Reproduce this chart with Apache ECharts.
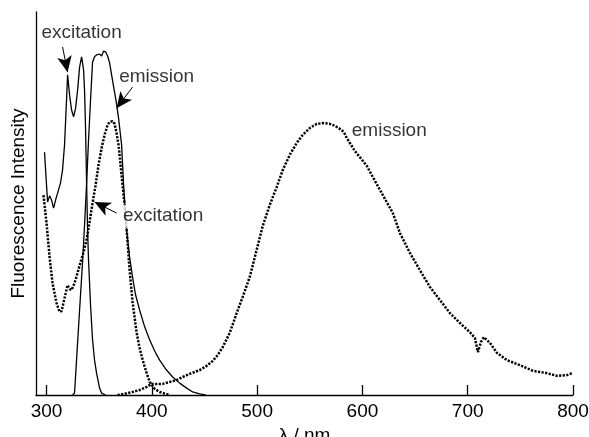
<!DOCTYPE html>
<html>
<head>
<meta charset="utf-8">
<script src="https://cdn.jsdelivr.net/npm/echarts@6/dist/echarts.min.js"></script>
<style>
html,body{margin:0;padding:0;background:#fff;}
#chart{width:589px;height:437px;}
</style>
</head>
<body>
<div id="chart"></div>
<script>
// ---- Data ----
const xTicks = [300, 400, 500, 600, 700, 800];

// solid excitation spectrum
const exc1Wl = [298.1,300.0,301.0,302.9,304.8,306.7,308.6,310.5,313.3,315.2,317.1,319.0,320.0,321.9,323.8,325.7,327.6,329.5,331.4,333.3,335.2,336.1,337.1,338.0,339.0,339.9,341.8,343.7,345.6,347.5,350.4,352.3,356.1];
const exc1Int = [63.4,54.8,50.4,52.0,50.9,48.8,50.9,52.7,55.4,58.7,65.3,77.0,83.6,78.3,74.4,72.6,74.9,79.6,85.6,88.3,84.9,79.6,69.2,56.1,43.1,35.2,23.5,14.4,9.1,5.7,1.8,0.5,0];

// solid emission spectrum
const em1Wl = [324.7,326.6,328.5,331.4,334.2,336.1,338.0,339.9,341.8,343.7,345.6,347.5,348.5,350.4,352.3,354.2,356.1,358.0,359.9,361.8,364.6,366.5,368.4,371.3,373.2,376.0,378.9,381.7,384.6,388.4,393.2,397.9,402.7,407.4,413.1,419.8,426.4,433.1,438.8,445.4,451.1];
const em1Int = [0,0.5,9.1,22.2,34.7,44.4,54.8,66.6,77.0,86.9,88.3,88.8,88.3,89.0,88.5,89.8,89.6,88.5,86.7,83.6,79.1,76.0,72.3,65.3,54.8,43.1,36.0,30.8,26.1,22.2,17.8,14.4,11.5,9.1,6.8,4.7,3.1,1.8,0.8,0.3,0];

// dotted excitation spectrum
const exc2Wl = [297.1,300.0,302.9,305.7,309.5,312.4,314.3,317.1,320.0,321.9,323.8,326.6,329.5,332.3,335.2,338.0,340.9,343.7,346.6,349.4,352.3,355.1,358.0,359.9,362.7,364.6,366.5,368.4,370.3,372.2,374.1,376.0,378.9,381.7,385.6,388.4,391.3,395.1,398.0,402.7,407.4,416.9];
const exc2Int = [52.2,44.9,36.0,29.2,24.0,21.7,21.9,25.3,28.7,27.7,27.4,29.2,31.9,34.7,37.3,40.5,45.2,50.1,54.8,60.1,64.5,67.9,70.5,71.3,71.5,70.8,68.4,65.3,60.1,54.8,49.6,43.6,32.6,24.3,16.2,12.3,9.1,5.7,3.4,1.6,0.8,0];

// dotted emission spectrum
const em2Wl = [367.5,374.1,381.7,388.4,395.1,399.8,404.6,410.3,416.9,423.6,429.3,435.9,445.4,452.1,457.8,462.5,467.3,474.0,480.6,486.3,493.0,499.6,505.3,512.0,518.6,524.3,531.0,537.6,543.3,550.0,556.7,562.4,569.0,573.8,578.5,582.3,585.2,588.1,592.8,597.6,604.2,609.9,619.4,628.9,635.6,645.1,654.6,664.1,673.6,683.1,692.6,702.1,706.8,709.7,712.5,715.4,721.1,727.8,737.3,749.6,762.0,775.3,784.8,794.3,799.0];
const em2Int = [0,0.3,0.8,1.3,2.1,2.9,2.9,2.9,3.4,3.9,4.7,5.5,6.5,7.6,8.9,10.4,12.5,16.2,21.4,25.6,30.8,37.9,44.1,49.6,54.3,58.7,62.7,65.8,67.9,69.7,70.8,71.0,70.8,70.3,69.5,68.7,67.1,65.8,63.7,62.1,59.8,56.9,52.2,47.5,42.3,37.1,32.6,28.2,24.8,21.4,18.8,16.4,14.9,11.2,13.8,15.1,13.6,11.0,9.1,7.8,6.3,5.7,5.0,5.2,5.7];

// annotations (data coordinates)
const labelTexts = ['excitation', 'emission', 'excitation', 'emission'];
const labelX = [333.3, 404.6, 409.3, 625.5];
const labelY = [94.5, 83.0, 46.7, 68.9];
const arrowFrom = [[315.2, 90.9], [381.7, 80.4], [366.5, 47.5]];
const arrowTo = [[320.0, 84.3], [366.5, 74.9], [345.6, 50.4]];

// ---- Chart ----
const FONT = '"Liberation Sans", Arial, Helvetica, sans-serif';
const zip = (a, b) => a.map((v, i) => [v, b[i]]);

const chart = echarts.init(document.getElementById('chart'), null, {renderer: 'canvas'});

const solidStyle = {color: '#000', width: 1.3, type: 'solid'};
const dotStyle = {color: '#000', width: 2.5, type: [2.2, 1.4]};

function lineSeries(name, wl, it, style) {
  return {
    name, type: 'line', data: zip(wl, it), showSymbol: false, symbol: 'none',
    lineStyle: style, silent: true, z: 2
  };
}

const option = {
  animation: false,
  backgroundColor: '#fff',
  textStyle: {fontFamily: FONT},
  grid: {left: 36, right: 16, top: 12, bottom: 42, containLabel: false, outerBoundsMode: 'none'},
  xAxis: {
    type: 'value', min: 290, max: 800,
    name: 'λ / nm', nameLocation: 'middle', nameGap: 25,
    nameTextStyle: {fontSize: 19, color: '#000', fontFamily: FONT},
    axisLine: {lineStyle: {color: '#000', width: 1.3}},
    axisTick: {inside: true, length: 10, customValues: xTicks, lineStyle: {color: '#000', width: 1.3}},
    axisLabel: {customValues: xTicks, fontSize: 19, color: '#000', margin: 7, fontFamily: FONT},
    splitLine: {show: false}
  },
  yAxis: {
    type: 'value', min: 0, max: 100,
    name: 'Fluorescence Intensity', nameLocation: 'middle', nameGap: 8, nameRotate: 90,
    nameTextStyle: {fontSize: 19, color: '#000', fontFamily: FONT},
    axisLine: {show: true, lineStyle: {color: '#000', width: 1.3}},
    axisTick: {show: false}, axisLabel: {show: false}, splitLine: {show: false}
  },
  series: [
    lineSeries('exc1', exc1Wl, exc1Int, solidStyle),
    lineSeries('em1', em1Wl, em1Int, solidStyle),
    lineSeries('exc2', exc2Wl, exc2Int, dotStyle),
    lineSeries('em2', em2Wl, em2Int, dotStyle),
    {
      name: 'labels', type: 'scatter', symbolSize: 0, silent: true, z: 10,
      data: labelTexts.map((t, i) => ({
        name: t, value: [labelX[i], labelY[i]],
        label: i === 2 ? {backgroundColor: '#fff', padding: [2, 0, 2, 3]} : {}
      })),
      label: {show: true, position: 'inside', formatter: '{b}', fontSize: 19, color: '#000', fontFamily: FONT},
      markLine: {
        silent: true, symbol: ['none', 'arrow'], symbolSize: [11, 16],
        lineStyle: {color: '#000', width: 1, type: 'solid'},
        label: {show: false},
        data: arrowFrom.map((f, i) => [{coord: f}, {coord: arrowTo[i]}])
      }
    }
  ]
};
chart.setOption(option);
</script>
</body>
</html>
